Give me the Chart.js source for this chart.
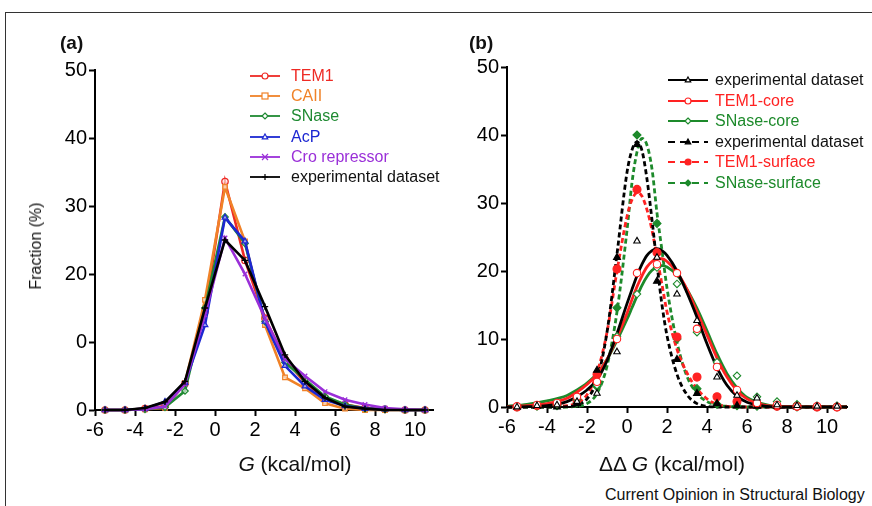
<!DOCTYPE html>
<html lang="en">
<head>
<meta charset="UTF-8">
<title>Fraction vs G / ΔΔG</title>
<script src="https://cdn.jsdelivr.net/npm/chart.js"></script>
<style>
  body { margin: 0; background: #fff; font-family: "Liberation Sans", Arial, sans-serif; }
  #fig { position: relative; width: 872px; height: 506px; overflow: hidden; }
  .frame { position: absolute; left: 5px; top: 12px; width: 900px; height: 520px; border-top: 1.5px solid #333; border-left: 1.5px solid #333; }
  canvas { position: absolute; top: 0; }
  .lbl { position: absolute; white-space: nowrap; color: #111; line-height: 1; }
  .row { position: absolute; height: 20px; line-height: 20px; font-size: 16px; white-space: nowrap; }
  .row svg { position: absolute; top: 0; }
</style>
</head>
<body>
<div id="fig">
  <div class="frame"></div>
  <canvas id="chartA" width="445" height="480" style="left:0"></canvas>
  <canvas id="chartB" width="427" height="480" style="left:445px"></canvas>
  <div class="lbl" style="left:60px;top:33px;font-size:19px;font-weight:bold">(a)</div>
  <div class="lbl" style="left:469px;top:33px;font-size:19px;font-weight:bold">(b)</div>
  <div class="lbl" style="left:36px;top:246px;font-size:16px;transform:translate(-50%,-50%) rotate(-90deg)">Fraction (%)</div>
  <div class="lbl" style="left:295px;top:453px;font-size:21px;transform:translateX(-50%)"><i>G</i> (kcal/mol)</div>
  <div class="lbl" style="left:672px;top:453px;font-size:21px;transform:translateX(-50%)">ΔΔ <i>G</i> (kcal/mol)</div>
  <div class="lbl" style="left:605px;top:487px;font-size:16px">Current Opinion in Structural Biology</div>
  <div id="legA"></div>
  <div id="legB"></div>
</div>
<script>
  // ---- panel (a): fraction vs G ----
  const gX = [-5.5, -4.5, -3.5, -2.5, -1.5, -0.5, 0.5, 1.5, 2.5, 3.5, 4.5, 5.5, 6.5, 7.5, 8.5, 9.5, 10.5];
  const tem1 = [0, 0, 0.2, 0.6, 3.9, 14.5, 33.6, 22, 13.5, 7.5, 4, 1.8, 0.8, 0.3, 0.1, 0, 0];
  const caii = [0, 0, 0.1, 0.3, 4, 16.2, 32.8, 24.8, 12.5, 4.8, 3.2, 1, 0.2, 0, 0, 0, 0];
  const snase = [0, 0, 0.1, 0.4, 2.8, 15, 28.4, 24.5, 13, 7, 4.5, 2, 0.8, 0.2, 0.1, 0, 0];
  const acp = [0, 0, 0.2, 1.2, 4, 12.5, 28.3, 24.8, 13, 6.5, 3.5, 1.5, 0.6, 0.2, 0.1, 0, 0];
  const cro = [0, 0, 0.1, 0.5, 3.8, 14, 25.3, 20, 13.5, 7.5, 5, 2.7, 1.5, 0.8, 0.3, 0.1, 0];
  const expA = [0, 0, 0.3, 1.2, 4.2, 15, 25, 22, 15.2, 8.1, 4.2, 1.8, 0.5, 0.2, 0, 0, 0];
  const gYTickLabels = ['0', '0', '20', '30', '40', '50'];

  // ---- panel (b): fraction vs ddG ----
  const ddgX = [-5.5, -4.5, -3.5, -2.5, -1.5, -0.5, 0.5, 1.5, 2.5, 3.5, 4.5, 5.5, 6.5, 7.5, 8.5, 9.5, 10.5];
  const expCore = [0, 0.2, 0.3, 0.8, 2.0, 8.1, 24.4, 22, 16.6, 12.7, 4.4, 1.7, 1.3, 0.3, 0.2, 0.1, 0.1];
  const tem1Core = [0.1, 0.3, 0.6, 1.5, 3.7, 10, 19.7, 21, 19.7, 11.5, 5.9, 2.5, 0.6, 0.3, 0.1, 0.1, 0];
  const snaseCore = [0.1, 0.2, 0.4, 1.1, 3.2, 10.4, 16.6, 20.5, 18.1, 11, 6.6, 4.6, 1.5, 0.8, 0.4, 0.2, 0.2];
  const expSurf = [0, 0.1, 0, 0.5, 5.4, 22, 38.6, 18.5, 7, 2, 0.5, 0.2, 0.1, 0.1, 0, 0, 0];
  const tem1Surf = [0, 0.2, 0.4, 1, 4.8, 20.3, 32, 22.7, 10.3, 4.4, 1.5, 0.8, 0.4, 0.1, 0.1, 0, 0];
  const snaseSurf = [0, 0.1, 0.2, 0.6, 3, 14.6, 40, 27, 10, 2.7, 0.4, 0.2, 0.1, 0.1, 0, 0, 0];

  // fitted curves
  const fitX = [-6, -5, -4, -3, -2.5, -2, -1.5, -1, -0.5, 0, 0.25, 0.5, 0.75, 1, 1.25, 1.5, 1.75, 2, 2.5, 3, 3.5, 4, 4.5, 5, 5.5, 6, 7, 8, 11];
  const expCoreFit = [0, 0.05, 0.2, 0.8, 1.5, 2.5, 4, 6.8, 10.8, 15.2, 17.3, 19.3, 21, 22.3, 23, 23.3, 23, 22.3, 20, 16.8, 13.2, 9.3, 5.8, 3.2, 1.6, 0.7, 0.1, 0, 0];
  const tem1CoreFit = [0.05, 0.2, 0.5, 1.3, 2.2, 3.3, 4.8, 7, 10.2, 13.8, 15.8, 17.7, 19.3, 20.6, 21.4, 21.8, 21.8, 21.4, 19.8, 17.3, 14, 10.6, 7.2, 4.4, 2.4, 1.2, 0.2, 0.05, 0];
  const snaseCoreFit = [0.1, 0.4, 0.9, 1.7, 2.5, 3.5, 4.9, 7, 9.8, 12.9, 14.6, 16.3, 17.9, 19.2, 20.1, 20.6, 20.8, 20.6, 19.4, 17.3, 14.5, 11.2, 7.8, 4.9, 2.8, 1.4, 0.3, 0.05, 0];
  const expSurfFit = [0, 0, 0, 0.05, 0.3, 1.2, 4, 11, 22.5, 34.5, 37.8, 39, 37.7, 33.5, 27.5, 21, 15, 10.5, 4.8, 1.8, 0.5, 0.1, 0, 0, 0, 0, 0, 0, 0];
  const tem1SurfFit = [0, 0.05, 0.1, 0.2, 0.6, 1.8, 5, 11, 20, 28, 30.5, 31.5, 31, 29, 26, 22, 18, 14, 8.5, 5, 2.7, 1.2, 0.4, 0.1, 0, 0, 0, 0, 0];
  const snaseSurfFit = [0, 0, 0, 0, 0.1, 0.5, 2, 6, 14, 26, 33, 37.5, 39.5, 38.5, 35, 28.5, 23, 17.5, 9.5, 4.5, 2, 0.8, 0.3, 0.1, 0, 0, 0, 0, 0];

  const RED = '#ee2a24', ORANGE = '#f08228', GREEN = '#1f8a32', BLUE = '#1c27d2', PURPLE = '#9a2fd8', BLACK = '#000';
  const RED_B = '#ff2222', GREEN_B = '#1d8a2b';

  Chart.defaults.font.family = '"Liberation Sans", Arial, sans-serif';
  Chart.defaults.color = '#000';

  function pts(xs, ys) {
    return xs.map((x, i) => ({ x: x, y: ys[i] }));
  }

  function axes(xmin, xmax, yWidth, xHeight, yLabels) {
    const grid = { drawOnChartArea: false, tickLength: 6, tickColor: '#000', tickWidth: 2 };
    const border = { color: '#000', width: 2 };
    return {
      x: {
        type: 'linear', min: xmin, max: xmax,
        grid: grid, border: border,
        ticks: { stepSize: 2, includeBounds: false, autoSkip: false, maxRotation: 0, padding: 2, font: { size: 20 } },
        afterFit: s => { s.height = xHeight; }
      },
      y: {
        min: 0, max: 50,
        grid: grid, border: border,
        ticks: {
          stepSize: 10, padding: 2, font: { size: 20 },
          callback: (v, i) => yLabels ? yLabels[i] : v
        },
        afterFit: s => { s.width = yWidth; }
      }
    };
  }

  // panel (a) series
  const seriesA = [
    { name: 'TEM1', data: tem1, color: RED, style: 'circle' },
    { name: 'CAII', data: caii, color: ORANGE, style: 'rect' },
    { name: 'SNase', data: snase, color: GREEN, style: 'rectRot' },
    { name: 'AcP', data: acp, color: BLUE, style: 'triangle' },
    { name: 'Cro repressor', data: cro, color: PURPLE, style: 'crossRot' },
    { name: 'experimental dataset', data: expA, color: BLACK, style: 'cross' }
  ];

  new Chart(document.getElementById('chartA'), {
    type: 'line',
    data: {
      datasets: seriesA.slice().reverse().map(s => ({
        label: s.name,
        data: pts(gX, s.data),
        borderColor: s.color,
        backgroundColor: '#fff',
        borderWidth: 2.6,
        tension: 0,
        pointStyle: s.style,
        pointRadius: 3.2,
        pointBorderWidth: 1.3,
        pointBorderColor: s.color,
        pointBackgroundColor: 'rgba(255,255,255,0.6)',
        clip: false
      }))
    },
    options: {
      responsive: false, animation: false, devicePixelRatio: 1,
      layout: { padding: { left: 0, right: 12, top: 70, bottom: 0 } },
      plugins: { legend: { display: false }, tooltip: { enabled: false } },
      scales: axes(-6, 10.9, 95, 70, gYTickLabels)
    }
  });

  // panel (b) series
  const pointsB = [
    { name: 'experimental dataset', data: expCore, color: BLACK, style: 'triangle', filled: false, dashed: false, fit: expCoreFit },
    { name: 'TEM1-core', data: tem1Core, color: RED_B, style: 'circle', filled: false, dashed: false, fit: tem1CoreFit },
    { name: 'SNase-core', data: snaseCore, color: GREEN_B, style: 'rectRot', filled: false, dashed: false, fit: snaseCoreFit },
    { name: 'experimental dataset', data: expSurf, color: BLACK, style: 'triangle', filled: true, dashed: true, fit: expSurfFit },
    { name: 'TEM1-surface', data: tem1Surf, color: RED_B, style: 'circle', filled: true, dashed: true, fit: tem1SurfFit },
    { name: 'SNase-surface', data: snaseSurf, color: GREEN_B, style: 'rectRot', filled: true, dashed: true, fit: snaseSurfFit }
  ];

  const dsB = [];
  pointsB.forEach(s => {
    dsB.push({
      label: s.name,
      data: pts(ddgX, s.data),
      showLine: false,
      pointStyle: s.style,
      pointRadius: s.filled ? 4 : 3.7,
      pointBorderWidth: 1.1,
      pointBorderColor: s.color,
      pointBackgroundColor: s.filled ? s.color : '#fff',
      order: 0,
      clip: false
    });
  });
  pointsB.forEach(s => {
    dsB.push({
      label: s.name + ' fit',
      data: pts(fitX, s.fit),
      borderColor: s.color,
      borderWidth: 2.8,
      borderDash: s.dashed ? [5, 3] : [],
      pointRadius: 0,
      cubicInterpolationMode: 'monotone',
      order: 1,
      clip: { left: 0, right: 0, top: 5, bottom: 3 }
    });
  });

  new Chart(document.getElementById('chartB'), {
    type: 'line',
    data: { datasets: dsB },
    options: {
      responsive: false, animation: false, devicePixelRatio: 1,
      layout: { padding: { left: 0, right: 25, top: 67, bottom: 0 } },
      plugins: { legend: { display: false }, tooltip: { enabled: false } },
      scales: axes(-6, 11, 62, 73, null)
    }
  });

  // ---- legends (html) ----
  function marker(style, color, filled, cx, cy, r) {
    const f = filled ? color : '#fff';
    const st = `stroke="${color}" stroke-width="1.2"`;
    if (style === 'circle') return `<circle cx="${cx}" cy="${cy}" r="${r}" fill="${f}" ${st}/>`;
    if (style === 'rect') return `<rect x="${cx - r}" y="${cy - r}" width="${2 * r}" height="${2 * r}" fill="${f}" ${st}/>`;
    if (style === 'rectRot') return `<polygon points="${cx},${cy - r} ${cx + r},${cy} ${cx},${cy + r} ${cx - r},${cy}" fill="${f}" ${st}/>`;
    if (style === 'triangle') return `<polygon points="${cx},${cy - r} ${cx + r * 0.9},${cy + r * 0.6} ${cx - r * 0.9},${cy + r * 0.6}" fill="${f}" ${st}/>`;
    if (style === 'crossRot') return `<path d="M${cx - r} ${cy - r}L${cx + r} ${cy + r}M${cx + r} ${cy - r}L${cx - r} ${cy + r}" ${st}/>`;
    return `<path d="M${cx} ${cy - r}L${cx} ${cy + r}M${cx - r} ${cy}L${cx + r} ${cy}" ${st}/>`;
  }

  function legend(id, items, x0, swW, textX, top0, step, mx) {
    const host = document.getElementById(id);
    items.forEach((s, i) => {
      const row = document.createElement('div');
      row.className = 'row';
      row.style.left = x0 + 'px';
      row.style.top = (top0 + i * step - 10) + 'px';
      const dash = s.dashed ? 'stroke-dasharray="7 5"' : '';
      row.innerHTML =
        `<svg width="${swW}" height="20" style="left:0"><line x1="0" y1="10" x2="${swW}" y2="10" stroke="${s.color}" stroke-width="1.8" ${dash}/>` +
        marker(s.style, s.color, !!s.filled, mx, 10, 3) + `</svg>` +
        `<span style="position:absolute;left:${textX - x0}px;color:${s.color === BLACK ? '#111' : s.color}">${s.name}</span>`;
      host.appendChild(row);
    });
  }

  legend('legA', seriesA, 250, 30, 291, 75.7, 20.3, 15);
  legend('legB', pointsB, 668, 40, 715, 80, 20.5, 20);
</script>
</body>
</html>
